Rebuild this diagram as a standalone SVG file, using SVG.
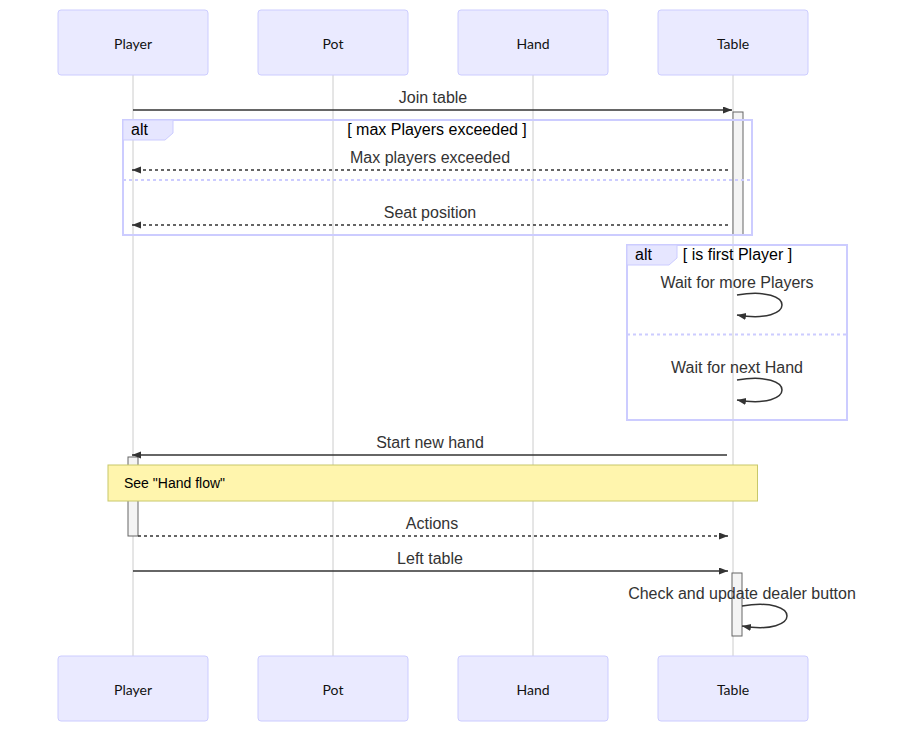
<svg xmlns="http://www.w3.org/2000/svg" width="898" height="732" viewBox="0 0 898 732">
<style>
.actor{fill:#eaeaff;stroke:#ccccff;stroke-width:1}
.atext{font-family:Lato,"Open Sans",sans-serif;font-size:14px;fill:#111;text-anchor:middle;dominant-baseline:central}
.life{stroke:#cccccc;stroke-width:1}
.msg{stroke:#333;stroke-width:1.5;fill:none}
.dash{stroke-dasharray:3,3}
.mtext{font-family:"Liberation Sans",Arial,sans-serif;font-size:16px;fill:#333;text-anchor:middle}
.frame{fill:none;stroke:#ccccff;stroke-width:2}
.sep{stroke:#ccccff;stroke-width:2;stroke-dasharray:3,3}
.lbox{fill:#e6e6ff;stroke:#ccccff;stroke-width:1}
.ltext{font-family:"Liberation Sans",Arial,sans-serif;font-size:16px;fill:#000}
.act{fill:#f4f4f4;stroke:#666;stroke-width:1}
.note{fill:#fff5ad;stroke:#c8c86a;stroke-width:1}
.ntext{font-family:"Liberation Sans",Arial,sans-serif;font-size:14px;fill:#000}
</style>
<defs>
<marker id="arrow" markerUnits="userSpaceOnUse" markerWidth="12" markerHeight="10" refX="9" refY="3.5" orient="auto">
<path d="M0,0 L9,3.5 L0,7 z" fill="#333"/>
</marker>
</defs>
<rect width="898" height="732" fill="#fff"/>
<g id="lifelines">
<line class="life" x1="133" y1="75" x2="133" y2="656"/>
<line class="life" x1="333" y1="75" x2="333" y2="656"/>
<line class="life" x1="533" y1="75" x2="533" y2="656"/>
<line class="life" x1="733" y1="75" x2="733" y2="656"/>
</g>
<g id="actor-player-top"><rect class="actor" x="58" y="10" width="150" height="65" rx="3"/><text class="atext" x="133" y="43">Player</text></g>
<g id="actor-pot-top"><rect class="actor" x="258" y="10" width="150" height="65" rx="3"/><text class="atext" x="333" y="43">Pot</text></g>
<g id="actor-hand-top"><rect class="actor" x="458" y="10" width="150" height="65" rx="3"/><text class="atext" x="533" y="43">Hand</text></g>
<g id="actor-table-top"><rect class="actor" x="658" y="10" width="150" height="65" rx="3"/><text class="atext" x="733" y="43">Table</text></g>
<g id="actor-player-bottom"><rect class="actor" x="58" y="656" width="150" height="65" rx="3"/><text class="atext" x="133" y="689">Player</text></g>
<g id="actor-pot-bottom"><rect class="actor" x="258" y="656" width="150" height="65" rx="3"/><text class="atext" x="333" y="689">Pot</text></g>
<g id="actor-hand-bottom"><rect class="actor" x="458" y="656" width="150" height="65" rx="3"/><text class="atext" x="533" y="689">Hand</text></g>
<g id="actor-table-bottom"><rect class="actor" x="658" y="656" width="150" height="65" rx="3"/><text class="atext" x="733" y="689">Table</text></g>
<g id="activations">
<rect class="act" x="733" y="112" width="10" height="123"/>
<rect class="act" x="128" y="457" width="10" height="79"/>
<rect class="act" x="732" y="573" width="10" height="63"/>
</g>
<g id="alt1">
<rect class="frame" x="123" y="120" width="629" height="115"/>
<polygon class="lbox" points="123,120 173,120 173,133 165,140 123,140"/>
<text class="ltext" x="131" y="135">alt</text>
<text class="ltext" x="437" y="135" text-anchor="middle">[ max Players exceeded ]</text>
<line class="sep" x1="123" y1="180" x2="752" y2="180"/>
</g>
<g id="alt2">
<rect class="frame" x="627" y="245" width="220" height="175"/>
<polygon class="lbox" points="627,245 677,245 677,258 669,265 627,265"/>
<text class="ltext" x="635" y="260">alt</text>
<text class="ltext" x="737.5" y="260" text-anchor="middle">[ is first Player ]</text>
<line class="sep" x1="627" y1="334.5" x2="847" y2="334.5"/>
</g>
<g id="connectors">
<text class="mtext" x="433" y="103">Join table</text>
<line class="msg" x1="133" y1="110" x2="732" y2="110" marker-end="url(#arrow)"/>
<text class="mtext" x="430" y="163">Max players exceeded</text>
<line class="msg dash" x1="728" y1="170" x2="132" y2="170" marker-end="url(#arrow)"/>
<text class="mtext" x="430" y="218">Seat position</text>
<line class="msg dash" x1="728" y1="225" x2="132" y2="225" marker-end="url(#arrow)"/>
<text class="mtext" x="737" y="288">Wait for more Players</text>
<path class="msg" d="M737,295 C797,285 797,325 737,315" marker-end="url(#arrow)"/>
<text class="mtext" x="737" y="373">Wait for next Hand</text>
<path class="msg" d="M737,380 C797,370 797,410 737,400" marker-end="url(#arrow)"/>
<text class="mtext" x="430" y="448">Start new hand</text>
<line class="msg" x1="727" y1="455" x2="132" y2="455" marker-end="url(#arrow)"/>
<text class="mtext" x="432" y="529">Actions</text>
<line class="msg dash" x1="138" y1="536" x2="728" y2="536" marker-end="url(#arrow)"/>
<text class="mtext" x="430" y="564">Left table</text>
<line class="msg" x1="133" y1="571" x2="728" y2="571" marker-end="url(#arrow)"/>
<text class="mtext" x="742" y="599">Check and update dealer button</text>
<path class="msg" d="M742,606 C802,596 802,636 742,626" marker-end="url(#arrow)"/>
</g>
<g id="note">
<rect class="note" x="108" y="465" width="649.5" height="36"/>
<text class="ntext" x="124" y="488">See "Hand flow"</text>
</g>
</svg>
